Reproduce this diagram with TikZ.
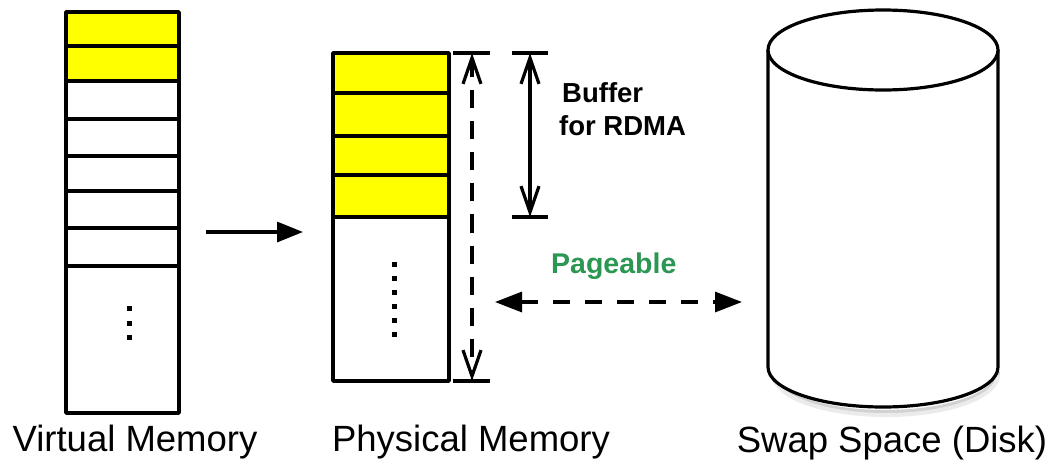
\documentclass[tikz,border=0pt]{standalone}
\usepackage{fontspec}
\setmainfont{Liberation Sans}
\usetikzlibrary{arrows.meta}
\definecolor{pageyellow}{RGB}{255,255,0}
\definecolor{pagegreen}{RGB}{43,151,82}
\tikzset{
  frame/.style={draw=black, line width=3.4pt, line join=round},
  cellline/.style={draw=black, line width=3.2pt},
  dot/.style={fill=black},
  barb/.style={line width=3.2pt, {Straight Barb[length=26pt,width=18pt]}-{Straight Barb[length=26pt,width=18pt]}},
  bar/.style={line width=3.2pt},
  solidhead/.style={line width=3.2pt, -{Triangle[length=26pt,width=20pt]}},
  dashhead/.style={line width=3.2pt, dash pattern=on 17pt off 15pt,
    {Triangle[length=27pt,width=20pt]}-{Triangle[length=27pt,width=20pt]}},
  caption/.style={font=\fontsize{36.5}{40}\selectfont, anchor=base, inner sep=0pt},
  boldlabel/.style={font=\bfseries\fontsize{27.5}{30}\selectfont, anchor=base west, inner sep=0pt},
}
\begin{document}
\begin{tikzpicture}[x=1pt, y=-1pt]
  \useasboundingbox (0,0) rectangle (1051,459);

  % ---------- virtual memory: page column ----------
  \fill[pageyellow] (66,12) rectangle (179,81);
  \foreach \yy in {46,81,119,156,191,228,266}
    \draw[cellline] (66,\yy) -- (179,\yy);
  \node[frame, minimum width=113pt, minimum height=401pt, inner sep=0pt] (vm) at (122.5,212.5) {};
  \foreach \yy in {308,323,337}
    \fill[dot] (126.5,\yy-2.5) rectangle ++(5,5);

  % ---------- physical memory: page column ----------
  \fill[pageyellow] (333,53) rectangle (449,217);
  \foreach \yy in {93,136,175,217}
    \draw[cellline] (333,\yy) -- (449,\yy);
  \node[frame, minimum width=116pt, minimum height=328pt, inner sep=0pt] (pm) at (391,217) {};
  \foreach \yy in {264,278,292,306,320,334}
    \fill[dot] (391.5,\yy-2.5) rectangle ++(5,5);

  % mapping arrow between the two columns
  \coordinate (mapfrom) at (206,232);
  \coordinate (mapto) at (303,232);
  \draw[solidhead] (mapfrom) -- (mapto);

  % ---------- extent of whole physical memory (dashed) ----------
  \coordinate (pgtop) at (472,53);
  \coordinate (pgbot) at (472,381);
  \draw[bar] (453,53) -- (490,53);
  \draw[bar] (453,381) -- (490,381);
  \draw[barb, dash pattern=on 18pt off 13pt] (pgtop) -- (pgbot);

  % ---------- extent of the RDMA buffer ----------
  \coordinate (buftop) at (530,53);
  \coordinate (bufbot) at (530,217);
  \draw[bar] (512,53) -- (548,53);
  \draw[bar] (512,217) -- (548,217);
  \draw[barb] (buftop) -- (bufbot);
  \node[boldlabel] (buf1) at (562,102) {Buffer};
  \node[boldlabel] (buf2) at (559,135) {for RDMA};

  % ---------- swapping ----------
  \node[boldlabel, text=pagegreen, font=\bfseries\fontsize{28.5}{30}\selectfont] (pageable) at (551,273) {Pageable};
  \coordinate (swapl) at (495,302);
  \coordinate (swapr) at (742,302);
  \draw[dashhead] (swapl) -- (swapr);

  % ---------- disk cylinder ----------
  \draw[black!18, line width=4pt] (772,372) arc[start angle=180, end angle=0, x radius=113, y radius=40];
  \draw[black!8, line width=4pt] (774,375) arc[start angle=180, end angle=0, x radius=112, y radius=40];
  \path[fill=white, draw=black, line width=3.2pt, line join=round]
    (768,50) -- (768,367) arc[start angle=180, end angle=0, x radius=115, y radius=40] -- (998,50);
  \draw[fill=white, line width=3.2pt] (883,50) ellipse [x radius=115, y radius=40];
  \node[inner sep=0pt, minimum width=230pt, minimum height=397pt] (disk) at (883,208.5) {};

  % ---------- captions ----------
  \node[caption] (cvm) at (135,451) {Virtual Memory};
  \node[caption] (cpm) at (471,451) {Physical Memory};
  \node[caption] (cdisk) at (892,452) {Swap Space (Disk)};
\end{tikzpicture}
\end{document}
